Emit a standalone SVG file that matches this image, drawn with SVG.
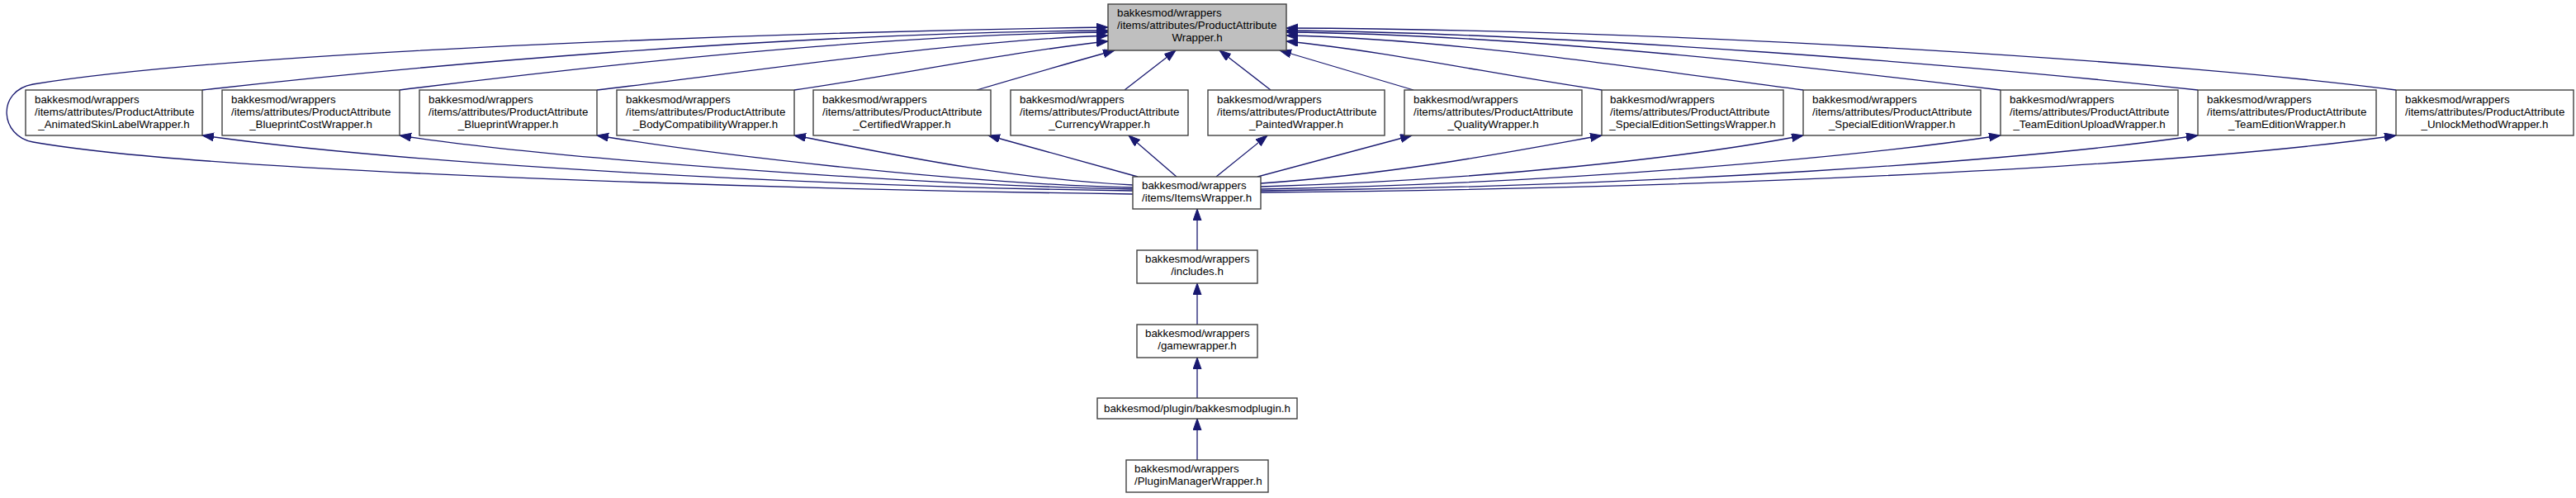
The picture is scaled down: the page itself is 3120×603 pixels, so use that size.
<svg xmlns="http://www.w3.org/2000/svg" width="3120" height="603" viewBox="0 0 3120 603">
<style>
.node rect{fill:#ffffff;stroke:#404040;stroke-width:1.4}
.node.cur rect{fill:#bfbfbf}
.node text{font-family:"Liberation Sans",Arial,sans-serif;font-size:13.33px;fill:#000000}
.node text.c{text-anchor:middle}
.edges path{fill:none;stroke:#191970;stroke-width:1.3;marker-end:url(#arr)}
</style>
<defs>
<marker id="arr" markerUnits="userSpaceOnUse" markerWidth="16" markerHeight="12" refX="14" refY="5" orient="auto">
<path d="M0,0 L14,5 L0,10 z" fill="#191970" stroke="#191970" stroke-width="1"/>
</marker>
</defs>
<rect x="0" y="0" width="3120" height="603" fill="#ffffff"/>
<g class="edges">
<path d="M1372,235 C1000,230 250,210 40,172 C0,165 -5,110 40,102 C300,60 1000,38 1342,33"/>
<path d="M245,109 C500,80 950,40 1342,37"/>
<path d="M484,109 C700,82 1050,42 1342,39"/>
<path d="M723,109 C900,88 1150,50 1342,43"/>
<path d="M962,109 C1080,92 1230,62 1342,50"/>
<path d="M1183,109 C1240,92 1300,75 1350,61"/>
<path d="M1362,109 L1424,61"/>
<path d="M1539,109 L1477,61"/>
<path d="M1712,109 L1550,61"/>
<path d="M1940,109 C1820,92 1680,62 1558,50"/>
<path d="M2184,109 C2000,85 1750,46 1558,43"/>
<path d="M2423,109 C2200,82 1850,42 1558,39"/>
<path d="M2662,109 C2400,80 1900,40 1558,37"/>
<path d="M2902,109 C2650,76 2050,36 1558,34"/>
<path d="M1372,231 C1000,226 500,200 245,164"/>
<path d="M1372,229 C1100,224 650,190 484,164"/>
<path d="M1372,227 C1150,222 850,185 723,164"/>
<path d="M1372,224 C1200,215 1050,180 962,164"/>
<path d="M1378,214 L1197,164"/>
<path d="M1425,214 L1367,164"/>
<path d="M1473,214 L1535,164"/>
<path d="M1523,214 L1710,164"/>
<path d="M1527,222 C1700,210 1850,180 1940,164"/>
<path d="M1527,226 C1800,218 2050,190 2184,164"/>
<path d="M1527,229 C1900,222 2250,190 2423,164"/>
<path d="M1527,231 C2000,226 2450,195 2662,164"/>
<path d="M1527,233 C2100,228 2650,200 2902,164"/>
<path d="M1450,303 L1450,253"/>
<path d="M1450,393 L1450,343"/>
<path d="M1450,482 L1450,433"/>
<path d="M1450,557 L1450,507"/>
</g>
<g id="node-productattributewrapper" class="node cur">
<rect x="1342" y="5" width="216" height="56"/>
<text x="1353" y="20">bakkesmod/wrappers</text>
<text x="1353" y="35">/items/attributes/ProductAttribute</text>
<text class="c" x="1450" y="50">Wrapper.h</text>
</g>
<g id="node-animatedskinlabel" class="node">
<rect x="31" y="109" width="214" height="55"/>
<text x="42" y="125">bakkesmod/wrappers</text>
<text x="42" y="140">/items/attributes/ProductAttribute</text>
<text class="c" x="138" y="155">_AnimatedSkinLabelWrapper.h</text>
</g>
<g id="node-blueprintcost" class="node">
<rect x="269" y="109" width="215" height="55"/>
<text x="280" y="125">bakkesmod/wrappers</text>
<text x="280" y="140">/items/attributes/ProductAttribute</text>
<text class="c" x="376.5" y="155">_BlueprintCostWrapper.h</text>
</g>
<g id="node-blueprint" class="node">
<rect x="508" y="109" width="215" height="55"/>
<text x="519" y="125">bakkesmod/wrappers</text>
<text x="519" y="140">/items/attributes/ProductAttribute</text>
<text class="c" x="615.5" y="155">_BlueprintWrapper.h</text>
</g>
<g id="node-bodycompatibility" class="node">
<rect x="747" y="109" width="215" height="55"/>
<text x="758" y="125">bakkesmod/wrappers</text>
<text x="758" y="140">/items/attributes/ProductAttribute</text>
<text class="c" x="854.5" y="155">_BodyCompatibilityWrapper.h</text>
</g>
<g id="node-certified" class="node">
<rect x="985" y="109" width="215" height="55"/>
<text x="996" y="125">bakkesmod/wrappers</text>
<text x="996" y="140">/items/attributes/ProductAttribute</text>
<text class="c" x="1092.5" y="155">_CertifiedWrapper.h</text>
</g>
<g id="node-currency" class="node">
<rect x="1224" y="109" width="215" height="55"/>
<text x="1235" y="125">bakkesmod/wrappers</text>
<text x="1235" y="140">/items/attributes/ProductAttribute</text>
<text class="c" x="1331.5" y="155">_CurrencyWrapper.h</text>
</g>
<g id="node-painted" class="node">
<rect x="1463" y="109" width="214" height="55"/>
<text x="1474" y="125">bakkesmod/wrappers</text>
<text x="1474" y="140">/items/attributes/ProductAttribute</text>
<text class="c" x="1570" y="155">_PaintedWrapper.h</text>
</g>
<g id="node-quality" class="node">
<rect x="1701" y="109" width="215" height="55"/>
<text x="1712" y="125">bakkesmod/wrappers</text>
<text x="1712" y="140">/items/attributes/ProductAttribute</text>
<text class="c" x="1808.5" y="155">_QualityWrapper.h</text>
</g>
<g id="node-specialeditionsettings" class="node">
<rect x="1940" y="109" width="220" height="55"/>
<text x="1950" y="125">bakkesmod/wrappers</text>
<text x="1950" y="140">/items/attributes/ProductAttribute</text>
<text class="c" x="2050" y="155">_SpecialEditionSettingsWrapper.h</text>
</g>
<g id="node-specialedition" class="node">
<rect x="2184" y="109" width="215" height="55"/>
<text x="2195" y="125">bakkesmod/wrappers</text>
<text x="2195" y="140">/items/attributes/ProductAttribute</text>
<text class="c" x="2291.5" y="155">_SpecialEditionWrapper.h</text>
</g>
<g id="node-teameditionupload" class="node">
<rect x="2423" y="109" width="215" height="55"/>
<text x="2434" y="125">bakkesmod/wrappers</text>
<text x="2434" y="140">/items/attributes/ProductAttribute</text>
<text class="c" x="2530.5" y="155">_TeamEditionUploadWrapper.h</text>
</g>
<g id="node-teamedition" class="node">
<rect x="2662" y="109" width="216" height="55"/>
<text x="2673" y="125">bakkesmod/wrappers</text>
<text x="2673" y="140">/items/attributes/ProductAttribute</text>
<text class="c" x="2770" y="155">_TeamEditionWrapper.h</text>
</g>
<g id="node-unlockmethod" class="node">
<rect x="2902" y="109" width="215" height="55"/>
<text x="2913" y="125">bakkesmod/wrappers</text>
<text x="2913" y="140">/items/attributes/ProductAttribute</text>
<text class="c" x="3009.5" y="155">_UnlockMethodWrapper.h</text>
</g>
<g id="node-itemswrapper" class="node">
<rect x="1372" y="214" width="155" height="39"/>
<text x="1383" y="229">bakkesmod/wrappers</text>
<text x="1383" y="244">/items/ItemsWrapper.h</text>
</g>
<g id="node-includes" class="node">
<rect x="1377" y="303" width="146" height="40"/>
<text x="1387" y="318">bakkesmod/wrappers</text>
<text class="c" x="1450" y="333">/includes.h</text>
</g>
<g id="node-gamewrapper" class="node">
<rect x="1377" y="393" width="146" height="40"/>
<text x="1387" y="408">bakkesmod/wrappers</text>
<text class="c" x="1450" y="423">/gamewrapper.h</text>
</g>
<g id="node-bakkesmodplugin" class="node">
<rect x="1329" y="482" width="242" height="25"/>
<text class="c" x="1450" y="499">bakkesmod/plugin/bakkesmodplugin.h</text>
</g>
<g id="node-pluginmanagerwrapper" class="node">
<rect x="1364" y="557" width="172" height="39"/>
<text x="1374" y="572">bakkesmod/wrappers</text>
<text x="1374" y="587">/PluginManagerWrapper.h</text>
</g>
</svg>
